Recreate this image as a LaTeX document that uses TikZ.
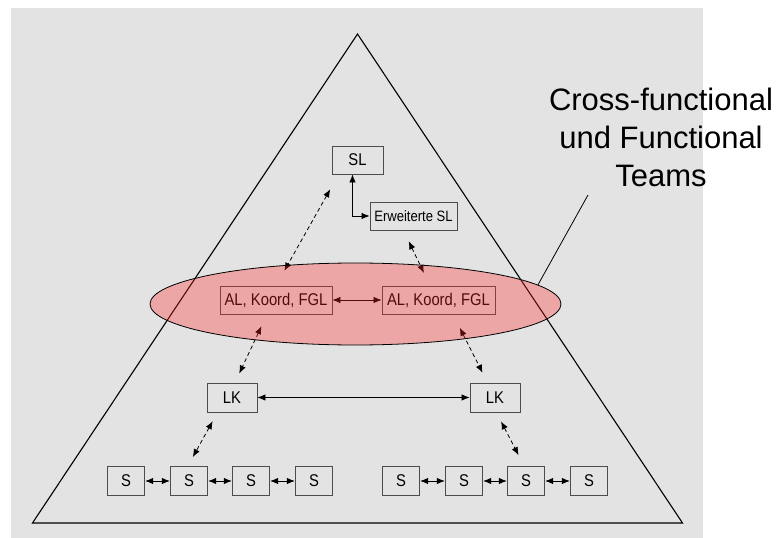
\documentclass[tikz,border=0pt]{standalone}
\usepackage{fontspec}
\setmainfont{Liberation Sans}
\newfontfamily\narrowsf[FakeStretch=0.87]{Liberation Sans}
\usetikzlibrary{arrows.meta,shapes.geometric}

\begin{document}
\begin{tikzpicture}[
    x=1pt, y=-1pt,
    >={Latex[length=8pt,width=6.5pt]},
    unit/.style={
      draw=black!70,
      line width=0.9pt,
      inner sep=0pt,
      minimum height=28pt,
      font=\narrowsf\fontsize{17}{19}\selectfont
    },
    member/.style={
      unit,
      minimum width=37.5pt,
      minimum height=29.5pt
    },
    lead/.style={
      unit,
      minimum width=50pt,
      minimum height=29pt
    },
    team/.style={
      ellipse,
      draw=black,
      line width=0.8pt,
      fill=red!85!white,
      fill opacity=0.32,
      inner sep=0pt,
      minimum width=411pt,
      minimum height=82pt
    },
    flow/.style={<->, line width=0.8pt, draw=black},
    link/.style={<->, line width=0.8pt, draw=black, dash pattern=on 4pt off 3pt}
  ]
    \fill[white] (0,0) rectangle (780,538);
    \fill[black!11] (11,7.5) rectangle (703,538);
    \useasboundingbox (0,0) rectangle (780,538);

    \draw[line width=1.1pt] (357.5,34) -- (682.5,523) -- (32.5,523) -- cycle;

    \node[unit, minimum width=51pt] (sl) at (357.5,160) {SL};
    \node[unit, minimum width=87pt, font=\narrowsf\fontsize{15}{17}\selectfont] (erw) at (413.5,216) {Erweiterte SL};
    \node[unit, minimum width=112pt] (alL) at (276,300) {AL, Koord, FGL};
    \node[unit, minimum width=113pt] (alR) at (438.5,300) {AL, Koord, FGL};
    \node[lead] (lkL) at (232,397.5) {LK};
    \node[lead] (lkR) at (495,397.5) {LK};

    \node[member] (sL1) at (126,481) {S};
    \node[member] (sL2) at (189,481) {S};
    \node[member] (sL3) at (251,481) {S};
    \node[member] (sL4) at (314,481) {S};
    \node[member] (sR1) at (401,481) {S};
    \node[member] (sR2) at (464,481) {S};
    \node[member] (sR3) at (526,481) {S};
    \node[member] (sR4) at (589,481) {S};

    \draw[flow] ([xshift=-5pt]sl.south) |- (erw.west);
    \draw[flow] (alL) -- (alR);
    \draw[flow] (lkL) -- (lkR);
    \draw[flow] (sL1) -- (sL2);
    \draw[flow] (sL2) -- (sL3);
    \draw[flow] (sL3) -- (sL4);
    \draw[flow] (sR1) -- (sR2);
    \draw[flow] (sR2) -- (sR3);
    \draw[flow] (sR3) -- (sR4);

    \draw[link, shorten <=17pt, shorten >=17pt] ([xshift=7pt]sl.south west) -- (alL.north);
    \draw[link, shorten <=12pt, shorten >=14pt] ([xshift=-10pt]erw.south) -- ([xshift=-8.5pt]alR.north);
    \draw[link, shorten <=13pt, shorten >=10pt] ([xshift=-9pt]alL.south) -- ([xshift=3pt]lkL.north);
    \draw[link, shorten <=15pt, shorten >=11pt] ([xshift=14.5pt]alR.south) -- ([xshift=-7.5pt]lkR.north);
    \draw[link, shorten <=10pt, shorten >=10pt] ([xshift=-14.5pt]lkL.south) -- ([xshift=-1pt]sL2.north);
    \draw[link, shorten <=10pt, shorten >=12pt] ([xshift=1.5pt]lkR.south) -- ([xshift=-2pt]sR3.north);

    \node[team] (ring) at (355.5,304) {};

    \node[anchor=north, inner sep=0pt, align=center, font=\fontsize{31}{38}\selectfont] (teams) at (661,88) {Cross-functional\\und Functional\\Teams};
    \coordinate (tip) at (588,195);
    \draw[line width=0.8pt] (tip) -- (ring.6);
  \end{tikzpicture}
\end{document}
